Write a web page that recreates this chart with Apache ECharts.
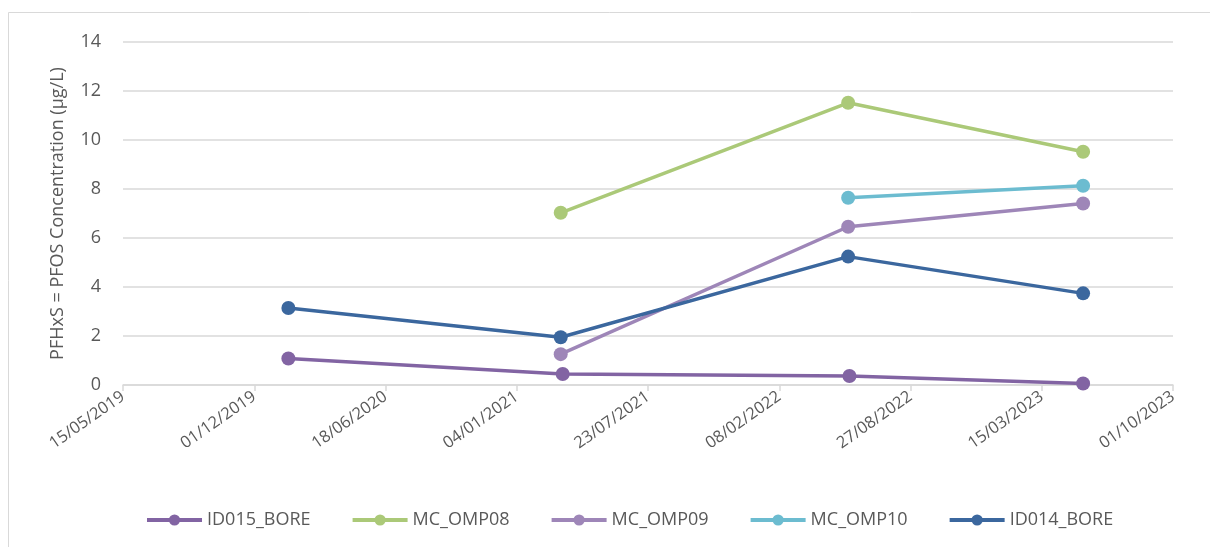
<!DOCTYPE html>
<html>
<head>
<meta charset="utf-8">
<script src="https://cdn.jsdelivr.net/npm/echarts@6/dist/echarts.min.js"></script>
<style>html,body{margin:0;padding:0;background:#fff;}#c{width:1210px;height:547px;}</style>
</head>
<body>
<div id="c"></div>
<script>
const seriesNames = ['ID015_BORE', 'MC_OMP08', 'MC_OMP09', 'MC_OMP10', 'ID014_BORE'];
const id015Dates = ['2020-01-22', '2021-03-15', '2022-05-26', '2023-05-17'];
const id015Values = [1.08, 0.45, 0.37, 0.06];
const omp08Dates = ['2021-03-12', '2022-05-24', '2023-05-17'];
const omp08Values = [7.03, 11.52, 9.52];
const omp09Dates = ['2021-03-12', '2022-05-24', '2023-05-17'];
const omp09Values = [1.26, 6.46, 7.41];
const omp10Dates = ['2022-05-24', '2023-05-17'];
const omp10Values = [7.64, 8.13];
const id014Dates = ['2020-01-22', '2021-03-12', '2022-05-24', '2023-05-17'];
const id014Values = [3.14, 1.95, 5.24, 3.74];
const yTicks = [0, 2, 4, 6, 8, 10, 12, 14];
const xTickStart = '2019-05-15';
const xTickEnd = '2023-10-01';
const xTickStepDays = 200;
const colors = ['#8264A3', '#ABC978', '#9E86B8', '#6CBCD0', '#3B679E'];

const DAY = 86400000;
const EPOCH = Date.UTC(1899, 11, 30);
function serial(s) { const p = s.split('-').map(Number); return Math.round((Date.UTC(p[0], p[1]-1, p[2]) - EPOCH) / DAY); }
function fmt(v) { const d = new Date(EPOCH + v * DAY); const dd = String(d.getUTCDate()).padStart(2,'0'); const mm = String(d.getUTCMonth()+1).padStart(2,'0'); return dd + '/' + mm + '/' + d.getUTCFullYear(); }
function pts(dates, vals) { return dates.map((d, i) => [serial(d), vals[i]]); }

const allData = [pts(id015Dates, id015Values), pts(omp08Dates, omp08Values), pts(omp09Dates, omp09Values), pts(omp10Dates, omp10Values), pts(id014Dates, id014Values)];
const font = 'Open Sans, Noto Sans, sans-serif';

const chart = echarts.init(document.getElementById('c'), null, {renderer: 'canvas'});
chart.setOption({
  animation: false,
  backgroundColor: '#fff',
  color: colors,
  graphic: [{type: 'rect', shape: {x: 8.5, y: 12.5, width: 1220, height: 560}, style: {fill: 'none', stroke: '#D9D9D9', lineWidth: 1}, silent: true, z: -1}],
  grid: {left: 123, right: 37, top: 42, bottom: 162, containLabel: false},
  xAxis: {
    type: 'value', min: serial(xTickStart), max: serial(xTickEnd), interval: xTickStepDays,
    axisLine: {show: true, lineStyle: {color: '#D9D9D9', width: 1.5}},
    axisTick: {show: true, length: 6, lineStyle: {color: '#D9D9D9', width: 1.5}},
    splitLine: {show: false},
    axisLabel: {rotate: 35, formatter: fmt, color: '#595959', fontSize: 16.5, fontFamily: font, margin: 10}
  },
  yAxis: {
    type: 'value', min: yTicks[0], max: yTicks[yTicks.length-1], interval: 2,
    name: 'PFHxS = PFOS Concentration (µg/L)', nameLocation: 'middle', nameGap: 56, nameRotate: 90,
    nameTextStyle: {color: '#595959', fontSize: 18, fontFamily: font},
    axisLine: {show: false}, axisTick: {show: false},
    splitLine: {lineStyle: {color: '#D9D9D9', width: 1.5}},
    axisLabel: {color: '#595959', fontSize: 18, fontFamily: font, margin: 22}
  },
  legend: {
    bottom: 13, left: 140, itemWidth: 55, itemHeight: 14, itemGap: 40,
    lineStyle: {width: 4},
    textStyle: {color: '#595959', fontSize: 18, fontFamily: font},
    data: seriesNames
  },
  series: seriesNames.map((n, i) => ({
    name: n, type: 'line', data: allData[i], symbol: 'circle', symbolSize: 14,
    lineStyle: {width: 3.5, color: colors[i]}, itemStyle: {color: colors[i]}, z: 2 + (i === 2 ? 0 : i)
  }))
});
</script>
</body>
</html>
